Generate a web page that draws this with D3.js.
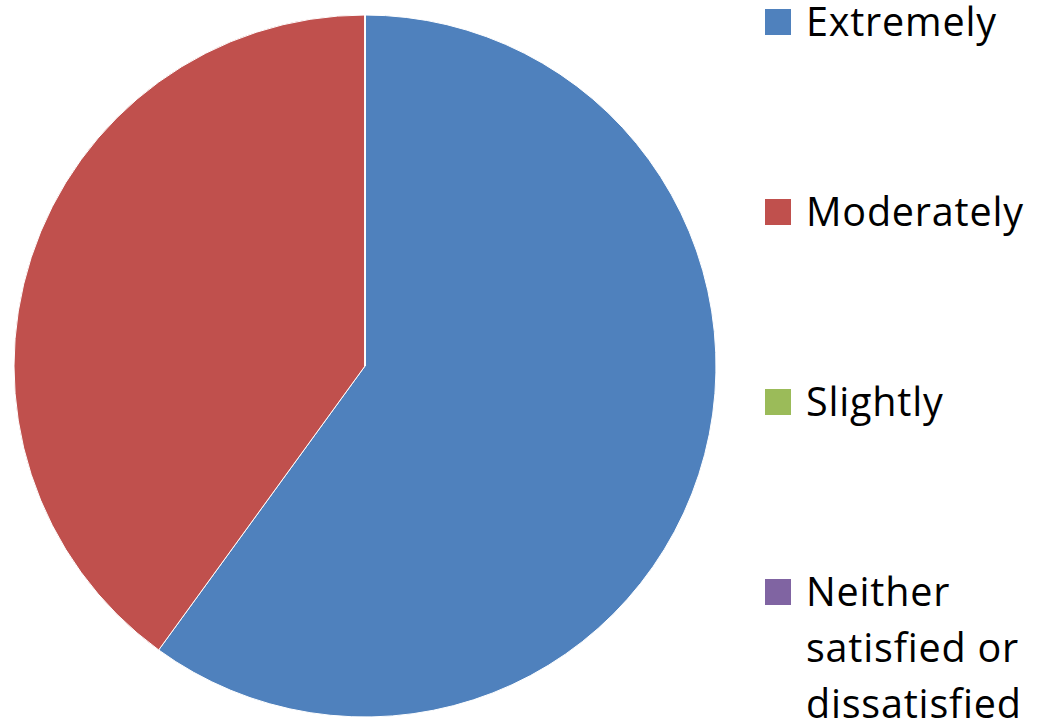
<!DOCTYPE html>
<html>
<head>
<meta charset="utf-8">
<script src="https://cdn.jsdelivr.net/npm/d3@7"></script>
<style>
  body { margin: 0; background: #fff; }
  svg { display: block; }
</style>
</head>
<body>
<svg id="chart" width="1047" height="728"></svg>
<script>
// categories and values (60% / 40%)
var categories = ["Extremely", "Moderately", "Slightly", "Neither satisfied or dissatisfied"];
var values = [3, 2, 0, 0];
var colors = ["#4F81BD", "#C0504D", "#9BBB59", "#8064A2"];
// legend labels, wrapped as in the original
var legendLines = [["Extremely"], ["Moderately"], ["Slightly"], ["Neither", "satisfied or", "dissatisfied"]];

var svg = d3.select("#chart");

var data = categories.map(function (c, i) { return { name: c, value: values[i], color: colors[i] }; });

var pie = d3.pie().sort(null).value(function (d) { return d.value; });
var arc = d3.arc().innerRadius(0).outerRadius(351);

var g = svg.append("g").attr("transform", "translate(365,366)");

g.selectAll("path")
  .data(pie(data))
  .enter()
  .append("path")
  .attr("d", arc)
  .attr("fill", function (d) { return d.data.color; })
  .attr("stroke", "#fff")
  .attr("stroke-width", 1);

// legend
var y = d3.scaleLinear().domain([0, 3]).range([36, 606]);

var legend = svg.selectAll(".legend")
  .data(data)
  .enter()
  .append("g")
  .attr("class", "legend")
  .attr("transform", function (d, i) { return "translate(765," + y(i) + ")"; });

legend.append("rect")
  .attr("x", 0)
  .attr("y", -27)
  .attr("width", 26)
  .attr("height", 26)
  .attr("fill", function (d) { return d.color; });

legend.append("text")
  .attr("x", 41)
  .attr("y", 0)
  .attr("font-family", "Open Sans, sans-serif")
  .attr("font-size", 39.5)
  .attr("letter-spacing", 0.8)
  .attr("fill", "#000")
  .selectAll("tspan")
  .data(function (d, i) { return legendLines[i]; })
  .enter()
  .append("tspan")
  .attr("x", 41)
  .attr("dy", function (d, i) { return i === 0 ? 0 : 56; })
  .text(function (d) { return d; });
</script>
</body>
</html>
